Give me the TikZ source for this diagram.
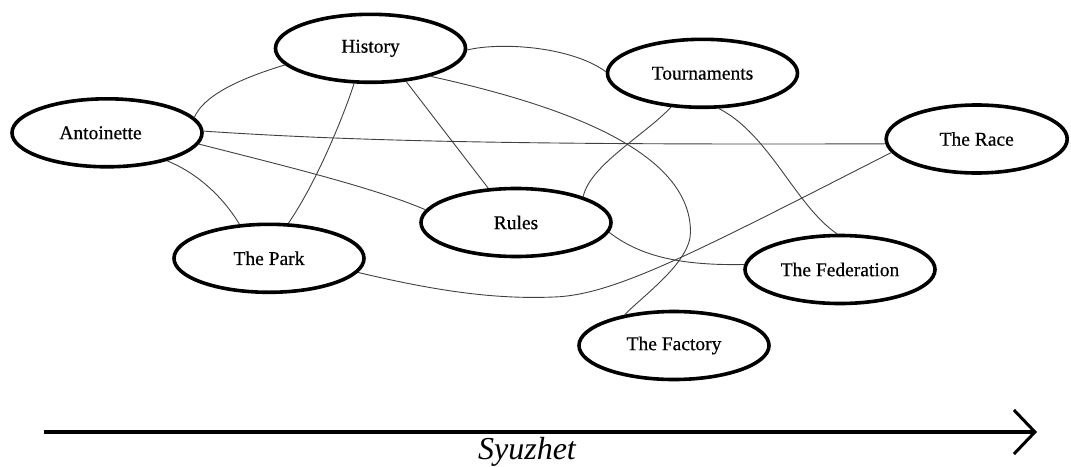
\documentclass[tikz,border=0pt]{standalone}
\usepackage{fontspec}
\setmainfont{Liberation Serif}
\newfontfamily\labelfont[FakeBold=0.5]{Liberation Serif}
\usetikzlibrary{shapes.geometric,arrows.meta}
\begin{document}
\begin{tikzpicture}[x=1pt,y=-1pt,
  topic/.style={ellipse,draw=black,line width=3.6pt,minimum width=190pt,minimum height=68pt,inner sep=0pt,font=\labelfont\fontsize{19.5}{23}\selectfont},
  link/.style={draw=black!75,line width=0.9pt},
  axis/.style={line width=3.3pt,-{Straight Barb[length=21pt,width=44pt,line width=3pt]}},
  axislabel/.style={font=\fontsize{32}{38}\selectfont\itshape}]
\useasboundingbox (0,0) rectangle (1071,466);
\node[topic] (hist) at (370.5,48.3) {History};
\node[topic] (ant) at (107,132.8) {\hspace*{-13pt}Antoinette};
\node[topic] (tour) at (702.5,73.3) {Tournaments};
\node[topic,minimum width=181pt] (race) at (976.7,139) {The Race};
\node[topic] (rules) at (516,222.5) {Rules};
\node[topic] (park) at (269,258.3) {The Park};
\node[topic] (fed) at (840,269.5) {The Federation};
\node[topic] (fact) at (674,345.5) {The Factory};

\draw[link] (ant.10) .. controls (203,97) and (235,80) .. (hist.191.4);
\draw[link] (ant.1.7) .. controls (350,141) and (520,145) .. (race.183.7);
\draw[link] (ant.-7.4) .. controls (285,166) and (375,188) .. (rules.172.5);
\draw[link] (ant.-25.3) .. controls (195,172) and (222,195) .. (park.131.9);
\draw[link] (hist.245.7) .. controls (345,112) and (318,180) .. (park.61);
\draw[link] (hist.-43) -- (rules.129.8);
\draw[link] (hist.-1) .. controls (500,42) and (570,46) .. (tour.179);
\coordinate (loop) at (690.5,232);
\draw[link] (hist.-25.2) .. controls (560,105) and (690.5,150) .. (loop) .. controls (690.5,262) and (645,294) .. (fact.148.4);
\draw[link] (tour.227) .. controls (645,135) and (590,165) .. (rules.21.7);
\draw[link] (tour.-65.8) .. controls (770,135) and (795,205) .. (fed.95.2);
\draw[link] (rules.-6.5) .. controls (635,252) and (670,266) .. (fed.177.9);
\coordinate (dip) at (560,296.7);
\draw[link] (park.-9.3) .. controls (440,292) and (500,300) .. (dip) .. controls (620,292) and (700,250) .. (race.189.7);

\coordinate (a0) at (44,432);
\coordinate (a1) at (1037,432);
\draw[axis] (a0) -- (a1);
\node[axislabel] (syu) at (527,451.5) {Syuzhet};
\end{tikzpicture}
\end{document}
